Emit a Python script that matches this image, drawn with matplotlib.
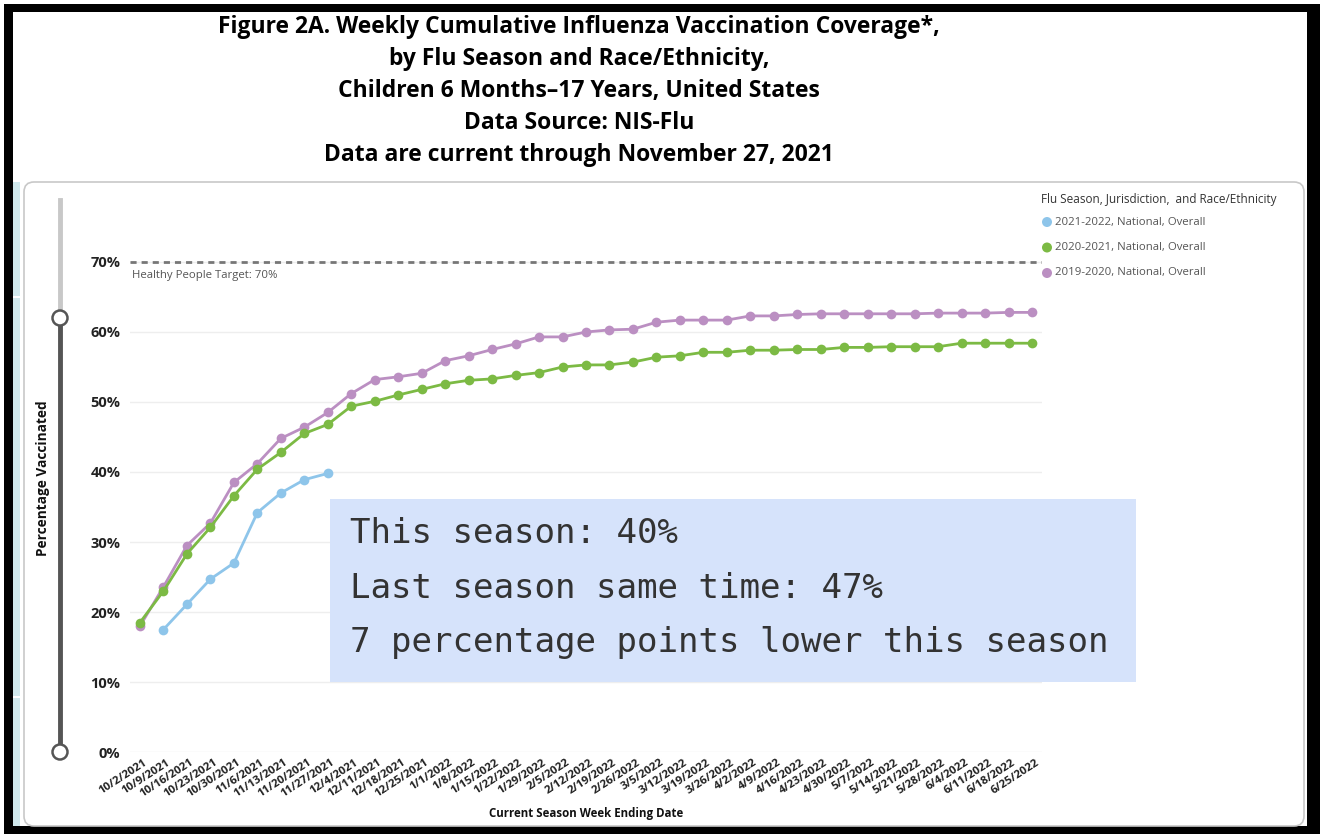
import matplotlib
matplotlib.use("Agg")
import matplotlib.pyplot as plt
from matplotlib.patches import Rectangle, FancyBboxPatch, Circle
from matplotlib.lines import Line2D
from matplotlib.transforms import IdentityTransform, ScaledTranslation

W, H = 1320, 834

# ---------------- data ----------------
dates = ["10/2/2021", "10/9/2021", "10/16/2021", "10/23/2021", "10/30/2021",
         "11/6/2021", "11/13/2021", "11/20/2021", "11/27/2021",
         "12/4/2021", "12/11/2021", "12/18/2021", "12/25/2021",
         "1/1/2022", "1/8/2022", "1/15/2022", "1/22/2022", "1/29/2022",
         "2/5/2022", "2/12/2022", "2/19/2022", "2/26/2022",
         "3/5/2022", "3/12/2022", "3/19/2022", "3/26/2022",
         "4/2/2022", "4/9/2022", "4/16/2022", "4/23/2022", "4/30/2022",
         "5/7/2022", "5/14/2022", "5/21/2022", "5/28/2022",
         "6/4/2022", "6/11/2022", "6/18/2022", "6/25/2022"]

season_2122_start = 1
season_2122 = [17.5, 21.1, 24.7, 27.0, 34.2, 37.0, 38.9, 39.8]

season_2021 = [18.5, 23.0, 28.3, 32.1, 36.6, 40.4, 42.8, 45.5, 46.8, 49.4,
               50.1, 51.0, 51.8, 52.6, 53.1, 53.3, 53.8, 54.2, 55.0, 55.3,
               55.3, 55.7, 56.4, 56.6, 57.1, 57.1, 57.4, 57.4, 57.5, 57.5,
               57.8, 57.8, 57.9, 57.9, 57.9, 58.4, 58.4, 58.4, 58.4]

season_1920 = [18.0, 23.6, 29.5, 32.7, 38.5, 41.2, 44.8, 46.4, 48.5, 51.2,
               53.2, 53.6, 54.1, 55.9, 56.6, 57.5, 58.3, 59.3, 59.3, 60.0,
               60.3, 60.4, 61.4, 61.7, 61.7, 61.7, 62.3, 62.3, 62.5, 62.6,
               62.6, 62.6, 62.6, 62.6, 62.7, 62.7, 62.7, 62.8, 62.8]

series_labels = ["2021-2022, National, Overall",
                 "2020-2021, National, Overall",
                 "2019-2020, National, Overall"]
series_colors = ["#8ec5ea", "#7cba44", "#bb8fc2"]

target = 70
yticks = [0, 10, 20, 30, 40, 50, 60, 70]
slider_low, slider_high = 0, 62

title_lines = ["Figure 2A. Weekly Cumulative Influenza Vaccination Coverage*,",
               "by Flu Season and Race/Ethnicity,",
               "Children 6 Months\u201317 Years, United States",
               "Data Source: NIS-Flu",
               "Data are current through November 27, 2021"]
box_lines = ["This season: 40%",
             "Last season same time: 47%",
             "7 percentage points lower this season"]

# ---------------- helpers ----------------
def fx(x):
    return x / W

def fy(y):
    return 1 - y / H

SANS = ["Open Sans", "DejaVu Sans"]

fig = plt.figure(figsize=(W / 100, H / 100), dpi=100, facecolor="white")

# black frame
fig.patches.append(Rectangle((4, 0), W - 4, H - 4, transform=IdentityTransform(),
                             facecolor="black", edgecolor="none", zorder=-10))
fig.patches.append(Rectangle((13, H - 826), 1307 - 13, 826 - 12, transform=IdentityTransform(),
                             facecolor="white", edgecolor="none", zorder=-9))
# left teal strip
for (y0, y1) in [(182, 296), (298, 696), (698, 826)]:
    fig.patches.append(Rectangle((13, H - y1), 7, y1 - y0, transform=IdentityTransform(),
                                 facecolor="#cfe7eb", edgecolor="none", zorder=-8))
# rounded panel
fig.patches.append(FancyBboxPatch((24, H - 826), 1304 - 24, 826 - 182,
                                  boxstyle="round,pad=0,rounding_size=10",
                                  transform=IdentityTransform(),
                                  facecolor="white", edgecolor="#c8c8c8",
                                  linewidth=1.2, zorder=-7))

# title
for i, line in enumerate(title_lines):
    fig.text(fx(579), fy(27 + 32 * i), line, ha="center", va="center",
             fontsize=16.5, fontweight="bold", family=SANS, color="#000000")

# ---------------- axes ----------------
x0_px, x1_px = 130, 1042
y0_px = 752
px_per_pct = 7.0
ymax = 75
ax = fig.add_axes([fx(x0_px), fy(y0_px), (x1_px - x0_px) / W, ymax * px_per_pct / H])
ax.set_facecolor("none")
n = len(dates)
step = (1032 - 140) / (n - 1)
ax.set_xlim(-(140 - x0_px) / step, (n - 1) + (x1_px - 1032) / step)
ax.set_ylim(0, ymax)
for s in ax.spines.values():
    s.set_visible(False)

for yt in yticks:
    ax.axhline(yt, color="#eeeeee", linewidth=1.0, zorder=0)

ax.axhline(target, color="#777777", linewidth=2.0, linestyle=(0, (2.2, 1.8)), zorder=1)
ax.annotate("Healthy People Target: 70%", xy=(0, target), xycoords=("axes fraction", "data"),
            xytext=(2, -14), textcoords="offset pixels", fontsize=8.2, color="#555555",
            family=SANS, va="center", ha="left")

xs_all = list(range(n))
ax.plot(xs_all, season_1920, color=series_colors[2], lw=2, marker="o", ms=7,
        markeredgewidth=0, zorder=3)
ax.plot(xs_all, season_2021, color=series_colors[1], lw=2, marker="o", ms=7,
        markeredgewidth=0, zorder=4)
xs_b = list(range(season_2122_start, season_2122_start + len(season_2122)))
ax.plot(xs_b, season_2122, color=series_colors[0], lw=2, marker="o", ms=7,
        markeredgewidth=0, zorder=5)

ax.set_yticks(yticks)
ax.set_yticklabels([f"{v}%" for v in yticks], fontsize=10.5, fontweight="bold",
                   family=SANS, color="#222222")
ax.tick_params(axis="y", length=0, pad=7)
ax.set_xticks(xs_all)
ax.set_xticklabels(dates, rotation=33, ha="right", va="center", rotation_mode="anchor",
                   fontsize=8.2, fontweight="bold", family=SANS, color="#222222")
ax.tick_params(axis="x", length=0, pad=7)
shift = ScaledTranslation(6 / 100, 0, fig.dpi_scale_trans)
for lbl in ax.get_xticklabels():
    lbl.set_transform(lbl.get_transform() + shift)

# x label & y label
fig.text(fx(586), fy(813), "Current Season Week Ending Date", ha="center", va="center",
         fontsize=8.3, fontweight="bold", family=SANS, color="#111111")
fig.text(fx(43), fy(478), "Percentage Vaccinated", ha="center", va="center",
         rotation=90, fontsize=9.8, fontweight="bold", family=SANS, color="#111111")

# range slider
def ypx(v):
    return H - (y0_px - v * px_per_pct)

sx = 60
fig.lines.append(Line2D([sx, sx], [H - 200, ypx(slider_high)], transform=IdentityTransform(),
                        color="#c8c8c8", lw=3.5, zorder=1))
fig.lines.append(Line2D([sx, sx], [ypx(slider_high), ypx(slider_low)], transform=IdentityTransform(),
                        color="#555555", lw=3.5, zorder=1))
for v in (slider_high, slider_low):
    fig.patches.append(Circle((sx, ypx(v)), 7.5, transform=IdentityTransform(),
                              facecolor="white", edgecolor="#555555", lw=1.8, zorder=2))

# legend
fig.text(fx(1041), fy(200), "Flu Season, Jurisdiction,  and Race/Ethnicity", ha="left",
         va="center", fontsize=8.5, family=SANS, color="#333333")
for i, (lab, col) in enumerate(zip(series_labels, series_colors)):
    yy = 222 + 25.5 * i
    fig.patches.append(Circle((1047, H - yy), 5, transform=IdentityTransform(),
                              facecolor=col, edgecolor="none", zorder=3))
    fig.text(fx(1055), fy(yy), lab, ha="left", va="center", fontsize=8.2,
             family=SANS, color="#555555")

# annotation box
fig.patches.append(Rectangle((330, H - 682), 1136 - 330, 682 - 499, transform=IdentityTransform(),
                             facecolor="#d6e3fb", edgecolor="none", zorder=6))
for i, line in enumerate(box_lines):
    fig.text(fx(350), fy(543 + 54.5 * i), line, ha="left", va="baseline",
             fontsize=24.6, family="DejaVu Sans Mono", color="#333333", zorder=7)

fig.savefig("out.png", dpi=100, facecolor="white")
